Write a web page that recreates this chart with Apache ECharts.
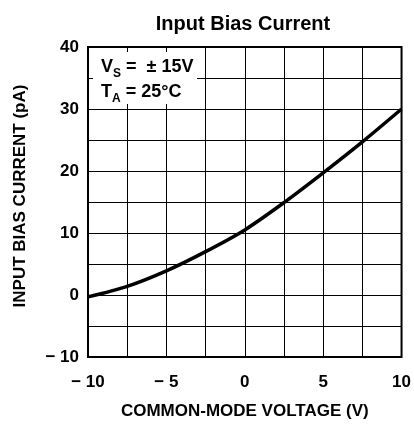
<!DOCTYPE html>
<html>
<head>
<meta charset="utf-8">
<script src="https://cdn.jsdelivr.net/npm/echarts@6/dist/echarts.min.js"></script>
<style>
  html, body { margin: 0; padding: 0; background: #fff; }
  #chart { width: 414px; height: 425px; }
</style>
</head>
<body>
<div id="chart"></div>
<script>
// common-mode voltage (V) and input bias current (pA)
const vcm = [-10, -7.5, -5, -2.5, 0, 2.5, 5, 7.5, 10]
const ibias = [-0.3, 1.4, 3.9, 7.0, 10.5, 14.9, 19.7, 24.7, 30]
const xTicks = [-10, -5, 0, 5, 10]
const yTicks = [-10, 0, 10, 20, 30, 40]

const font = '"Liberation Sans", Arial, sans-serif'

function fmt(v) {
  return v < 0 ? '\u2212 ' + Math.abs(v) : String(v)
}

const chart = echarts.init(document.getElementById('chart'))
const options = {
  animation: false,
  title: {
    text: 'Input Bias Current',
    left: 238,
    textAlign: 'center',
    top: 9,
    textStyle: { fontFamily: font, fontWeight: 'bold', fontSize: 20, color: '#000' },
  },
  grid: {
    left: 88, right: 10, top: 47, bottom: 68,
    show: true, borderColor: '#000', borderWidth: 2, backgroundColor: '#fff',
  },
  xAxis: {
    type: 'value',
    min: -10, max: 10, interval: 2.5,
    name: 'COMMON-MODE VOLTAGE (V)',
    nameLocation: 'middle',
    nameGap: 46,
    nameTextStyle: { fontFamily: font, fontWeight: 'bold', fontSize: 17, color: '#000' },
    axisLine: { show: false },
    axisTick: { show: false },
    splitLine: { lineStyle: { color: '#000', width: 1 } },
    axisLabel: {
      margin: 17,
      fontFamily: font, fontWeight: 'bold', fontSize: 17, color: '#000',
      formatter: v => (xTicks.includes(v) ? fmt(v) : ''),
    },
  },
  yAxis: {
    type: 'value',
    min: -10, max: 40, interval: 5,
    name: 'INPUT BIAS CURRENT (pA)',
    nameLocation: 'middle',
    nameGap: 59,
    nameTextStyle: { fontFamily: font, fontWeight: 'bold', fontSize: 17, color: '#000', padding: [0, 0, 0, 12] },
    axisLine: { show: false },
    axisTick: { show: false },
    splitLine: { lineStyle: { color: '#000', width: 1 } },
    axisLabel: {
      margin: 9,
      fontFamily: font, fontWeight: 'bold', fontSize: 17, color: '#000',
      formatter: v => (yTicks.includes(v) ? fmt(v) : ''),
    },
  },
  graphic: [
    {
      type: 'rect',
      shape: { x: 93, y: 52, width: 104, height: 52 },
      style: { fill: '#fff' },
      z: 10,
    },
    {
      type: 'text',
      left: 101, top: 58, z: 11,
      style: {
        text: '{b|V}{s|S}{b| =  \u00b1 15V}\n{b|T}{s|A}{b| = 25\u00b0C}',
        rich: {
          b: { fontFamily: font, fontWeight: 'bold', fontSize: 18, fill: '#000', lineHeight: 25 },
          s: { fontFamily: font, fontWeight: 'bold', fontSize: 12, fill: '#000', verticalAlign: 'bottom', lineHeight: 25, padding: [6, 0, 0, 0] },
        },
      },
    },
  ],
  series: [
    {
      type: 'line',
      data: vcm.map((x, i) => [x, ibias[i]]),
      smooth: 0.3,
      showSymbol: false,
      lineStyle: { color: '#000', width: 3.5 },
      z: 5,
    },
  ],
}
chart.setOption(options)
</script>
</body>
</html>
